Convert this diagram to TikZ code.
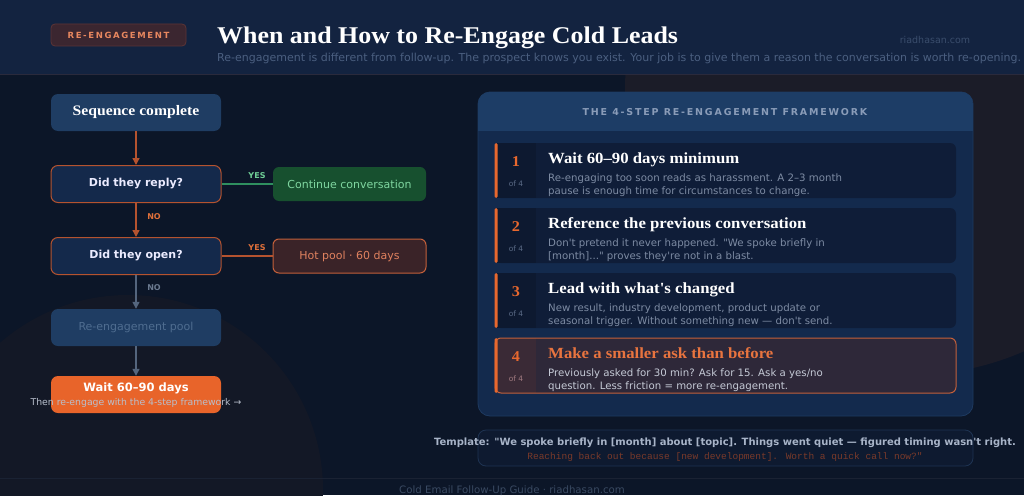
\documentclass[tikz,border=0pt]{standalone}
\usepackage{fontspec}
\setmainfont{DejaVu Sans}[Ligatures=TeXOff]
\newfontfamily\serifb[FakeStretch=1.08]{Liberation Serif}
\newfontfamily\monof{Liberation Mono}
\newfontfamily\trackf[LetterSpace=19]{DejaVu Sans}
\usetikzlibrary{arrows.meta}
\newcommand\fsz[1]{\fontsize{#1}{#1}\selectfont}
\definecolor{bodybg}{HTML}{0C1628}
\definecolor{headbg}{HTML}{132340}
\definecolor{headline}{HTML}{2A2A3C}
\definecolor{glowR}{HTML}{1B1C28}
\definecolor{glowL}{HTML}{131826}
\definecolor{badgebg}{HTML}{3B2630}
\definecolor{badgeline}{HTML}{5C3436}
\definecolor{badgetxt}{HTML}{E8875F}
\definecolor{subtxt}{HTML}{4B5F80}
\definecolor{sitetxt}{HTML}{3A4D6C}
\definecolor{startbg}{HTML}{1F3D63}
\definecolor{decbg}{HTML}{14294B}
\definecolor{oline}{HTML}{B5532F}
\definecolor{notxt}{HTML}{E0703A}
\definecolor{gline}{HTML}{2F8F5F}
\definecolor{yesg}{HTML}{6FCF97}
\definecolor{contbg}{HTML}{17502F}
\definecolor{conttxt}{HTML}{7FD6A0}
\definecolor{hotbg}{HTML}{3A2328}
\definecolor{hotline}{HTML}{C4603A}
\definecolor{hottxt}{HTML}{E0825F}
\definecolor{grayline}{HTML}{54657D}
\definecolor{graytxt}{HTML}{6B7A90}
\definecolor{pooltxt}{HTML}{4F6D90}
\definecolor{waitbg}{HTML}{E8642A}
\definecolor{waitsub}{HTML}{B8BFCC}
\definecolor{panelbg}{HTML}{132A4D}
\definecolor{panelhead}{HTML}{1D3D66}
\definecolor{panelline}{HTML}{1E3A60}
\definecolor{paneltitle}{HTML}{8A9CB8}
\definecolor{cardbg}{HTML}{0F1D38}
\definecolor{numbg}{HTML}{0D1930}
\definecolor{accent}{HTML}{E8682E}
\definecolor{oftxt}{HTML}{5A6A85}
\definecolor{desctxt}{HTML}{7D8BA3}
\definecolor{card4bg}{HTML}{2E2839}
\definecolor{num4bg}{HTML}{3A2A36}
\definecolor{title4}{HTML}{E8743F}
\definecolor{desc4}{HTML}{C5CAD6}
\definecolor{of4txt}{HTML}{A07A80}
\definecolor{tplbg}{HTML}{0E1A30}
\definecolor{tplline}{HTML}{1E3352}
\definecolor{tpltxt}{HTML}{A8B4C8}
\definecolor{tplmono}{HTML}{7A3A2A}
\definecolor{footline}{HTML}{1A2233}
\definecolor{foottxt}{HTML}{3A4A62}
\begin{document}
\begin{tikzpicture}[x=1pt,y=-1pt,
  box/.style={rounded corners=7, minimum width=170pt, minimum height=37pt, inner sep=0pt},
  startbox/.style={box, fill=startbg, text=white, font=\serifb\bfseries\fsz{14.5}},
  decide/.style={box, fill=decbg, draw=oline, line width=1pt, minimum height=37pt, text=white!92!blue, font=\bfseries\fsz{11}},
  sidebox/.style={rounded corners=6, minimum width=153pt, minimum height=34pt, inner sep=0pt, font=\fsz{11}},
  oarrow/.style={draw=oline, line width=1.4pt, -{Triangle[length=7pt,width=7pt]}},
  garrow/.style={draw=grayline, line width=1.4pt, -{Triangle[length=7pt,width=7pt]}},
  lbl/.style={font=\bfseries\fsz{8}, inner sep=0pt},
  cardtitle/.style={anchor=base west, inner sep=0pt, font=\serifb\bfseries\fsz{15.5}},
  desc/.style={anchor=base west, inner sep=0pt, font=\fsz{10.2}},
  numf/.style={anchor=base, inner sep=0pt, text=accent, font=\serifb\bfseries\fsz{15}},
  off/.style={anchor=base, inner sep=0pt, font=\fsz{7.5}}
]
\useasboundingbox (0,0) rectangle (1024,495);
\fill[bodybg] (0,0) rectangle (1024,495);
\begin{scope}
  \clip (0,75) rectangle (1024,495);
  \fill[glowR] (910,90) circle (285);
  \fill[glowL] (128,490) circle (195);
\end{scope}
\fill[headbg] (0,0) rectangle (1024,74);
\draw[headline, line width=1.5pt] (0,74.5) -- (1024,74.5);

% header
\node[rounded corners=4, fill=badgebg, draw=badgeline, line width=0.8pt, minimum width=135pt, minimum height=22pt, inner sep=0pt, text=badgetxt, font=\trackf\bfseries\fsz{8.5}] (badge) at (118.5,35) {RE-ENGAGEMENT};
\node[anchor=base west, inner sep=0pt, text=white, font=\serifb\bfseries\fsz{24}] (title) at (217,44) {When and How to Re-Engage Cold Leads};
\node[anchor=base west, inner sep=0pt, text=subtxt, font=\fsz{11}] (subtitle) at (217,62) {Re-engagement is different from follow-up. The prospect knows you exist. Your job is to give them a reason the conversation is worth re-opening.};
\node[inner sep=0pt, text=sitetxt, font=\fsz{9.5}] (site) at (935,40) {riadhasan.com};

% flowchart
\node[startbox] (seq) at (136,112.5) {Sequence complete};
\node[decide] (reply) at (136,184) {Did they reply?};
\node[sidebox, fill=contbg, text=conttxt] (cont) at (349.5,184) {Continue conversation};
\node[decide] (open) at (136,256) {Did they open?};
\node[sidebox, fill=hotbg, draw=hotline, line width=1pt, text=hottxt] (hot) at (349.5,256) {Hot pool · 60 days};
\node[box, fill=startbg, text=pooltxt, font=\fsz{11}] (pool) at (136,327.5) {Re-engagement pool};
\node[box, fill=waitbg] (wait) at (136,394.5) {};
\node[inner sep=0pt, text=white, font=\bfseries\fsz{11.5}] (waittxt) at (136,388) {Wait 60–90 days};
\node[inner sep=0pt, text=waitsub, font=\fsz{9.3}] (waitnote) at (136,403) {Then re-engage with the 4-step framework →};

\draw[oarrow] (seq) -- (reply);
\draw[draw=gline, line width=1.2pt] (reply) -- (cont);
\node[lbl, text=yesg] (yes1) at (257,176) {YES};
\draw[oarrow] (reply) -- (open);
\node[lbl, text=notxt] (no1) at (154,217) {NO};
\draw[draw=oline, line width=1.2pt] (open) -- (hot);
\node[lbl, text=notxt] (yes2) at (257,248) {YES};
\draw[garrow] (open) -- (pool);
\node[lbl, text=graytxt] (no2) at (154,288) {NO};
\draw[garrow] (pool) -- (wait);

% panel
\draw[panelline, fill=panelbg, rounded corners=12, line width=0.8pt] (478,92) rectangle (973,416);
\begin{scope}
  \clip[rounded corners=12] (478,92) rectangle (973,416);
  \fill[panelhead] (478,92) rectangle (973,131);
\end{scope}
\node[inner sep=0pt, text=paneltitle, font=\trackf\bfseries\fsz{9.5}] (ptitle) at (725,112) {THE 4-STEP RE-ENGAGEMENT FRAMEWORK};

\foreach \n/\ty/\ttl/\la/\lb in {
  1/143/{Wait 60–90 days minimum}/{Re-engaging too soon reads as harassment. A 2–3 month}/{pause is enough time for circumstances to change.},
  2/208/{Reference the previous conversation}/{Don't pretend it never happened. "We spoke briefly in}/{[month]..." proves they're not in a blast.},
  3/273/{Lead with what's changed}/{New result, industry development, product update or}/{seasonal trigger. Without something new — don't send.}}
{
  \fill[cardbg, rounded corners=6] (495,\ty) rectangle (956,\ty+55);
  \fill[numbg] (497,\ty) rectangle (536,\ty+55);
  \fill[accent, rounded corners=1.5] (494.5,\ty) rectangle (497.5,\ty+55);
  \node[numf] (num\n) at (516,\ty+23.5) {\n};
  \node[off, text=oftxt] (of\n) at (516,\ty+43) {of 4};
  \node[cardtitle, text=white] (ct\n) at (548,\ty+20) {\ttl};
  \node[desc, text=desctxt] (da\n) at (548,\ty+38.5) {\la};
  \node[desc, text=desctxt] (db\n) at (548,\ty+51.5) {\lb};
}
% card 4
\begin{scope}
  \clip[rounded corners=6] (495,338) rectangle (956,393);
  \fill[card4bg] (495,338) rectangle (956,393);
  \fill[num4bg] (497,338) rectangle (536,393);
\end{scope}
\draw[hotline, line width=1pt, rounded corners=6] (495,338) rectangle (956,393);
\fill[accent, rounded corners=1.5] (494.5,338) rectangle (497.5,393);
\node[numf] (num4) at (516,361.5) {4};
\node[off, text=of4txt] (of4) at (516,381) {of 4};
\node[cardtitle, text=title4] (ct4) at (548,358) {Make a smaller ask than before};
\node[desc, text=desc4] (da4) at (548,376.5) {Previously asked for 30 min? Ask for 15. Ask a yes/no};
\node[desc, text=desc4] (db4) at (548,389.5) {question. Less friction = more re-engagement.};

% template
\draw[tplline, fill=tplbg, rounded corners=8, line width=0.8pt] (478,430) rectangle (973,466);
\node[anchor=base, inner sep=0pt, text=tpltxt, font=\bfseries\fsz{10}] (tpl1) at (725,445) {Template: "We spoke briefly in [month] about [topic]. Things went quiet — figured timing wasn't right.};
\node[anchor=base, inner sep=0pt, text=tplmono, font=\monof\fsz{9.5}] (tpl2) at (725,459) {Reaching back out because [new development]. Worth a quick call now?"};

% footer
\draw[footline, line width=1pt] (0,478) -- (1024,478);
\node[anchor=base, inner sep=0pt, text=foottxt, font=\fsz{10.2}] (foot) at (512,493) {Cold Email Follow-Up Guide · riadhasan.com};
\end{tikzpicture}
\end{document}
